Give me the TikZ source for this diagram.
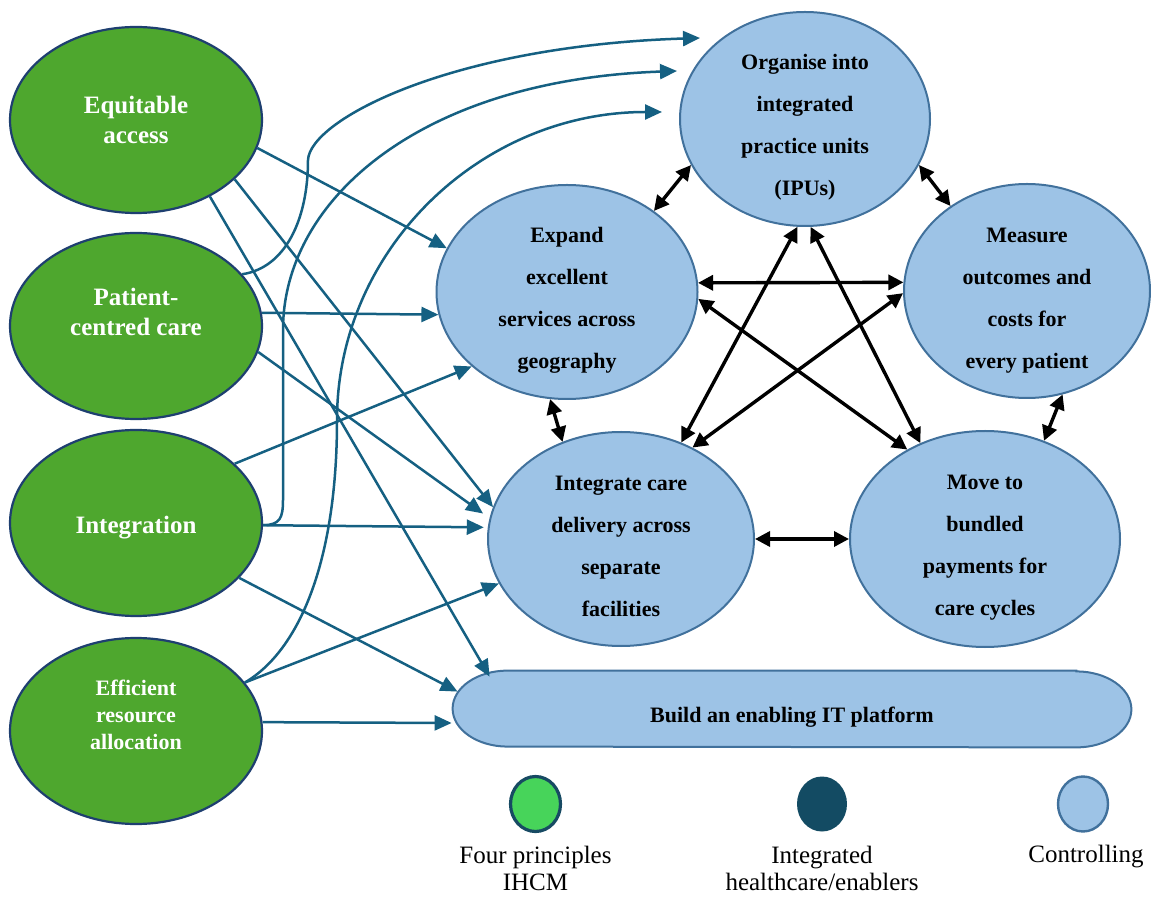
\documentclass[tikz,border=0pt]{standalone}
\usepackage{fontspec}
\setmainfont{Liberation Serif}
\usetikzlibrary{arrows.meta,shapes.geometric}

\definecolor{prgreen}{HTML}{4EA72E}
\definecolor{prborder}{HTML}{1E3F70}
\definecolor{ctfill}{HTML}{9DC3E6}
\definecolor{ctborder}{HTML}{41719C}
\definecolor{flowblue}{HTML}{156082}
\definecolor{keygreen}{HTML}{47D45A}
\definecolor{keyrim}{HTML}{174A63}
\definecolor{keydark}{HTML}{134B63}

% centred multi-line text, shifted vertically by #1 without changing the node size
\newcommand\lbl[2]{\raisebox{#1}[0pt][0pt]{\begin{tabular}{@{}c@{}}#2\end{tabular}}}

\tikzset{
  principle/.style={ellipse, draw=prborder, line width=1.1pt, fill=prgreen,
    minimum width=126pt, minimum height=93pt, inner sep=0pt, text=white,
    font=\bfseries\fontsize{12.5}{15}\selectfont},
  ctrl/.style={ellipse, draw=ctborder, line width=1pt, fill=ctfill,
    inner sep=0pt, font=\bfseries\fontsize{11}{21}\selectfont},
  flow/.style={draw=flowblue, line width=1.25pt, -{Triangle[length=8.5pt,width=7.5pt]}},
  link/.style={draw=black, line width=1.7pt,
    {Triangle[length=7.5pt,width=7.5pt]}-{Triangle[length=7.5pt,width=7.5pt]}},
  keydot/.style={ellipse, minimum width=25pt, minimum height=27.5pt, inner sep=0pt},
  keytext/.style={font=\fontsize{12.5}{13.5}\selectfont, inner sep=0pt}
}

\begin{document}
\begin{tikzpicture}[x=0.5pt,y=-0.5pt]
\useasboundingbox (0,0) rectangle (1151,897);
\fill[white] (0,0) rectangle (1151,897);

% the four principles
\node[principle] (eq) at (136,120) {\lbl{-4.5pt}{Equitable\\access}};
\node[principle] (pc) at (136,326) {\lbl{2.5pt}{Patient-\\centred care}};
\node[principle] (ig) at (136,523) {\lbl{-5.5pt}{Integration}};
\node[principle, font=\bfseries\fontsize{11}{13.5}\selectfont] (ef) at (136,731)
  {\lbl{4pt}{Efficient\\resource\\allocation}};

% value agenda components
\node[ctrl, minimum width=125pt, minimum height=107pt] (org) at (805,119)
  {\lbl{-5.5pt}{Organise into\\integrated\\practice units\\(IPUs)}};
\node[ctrl, minimum width=130.5pt, minimum height=107pt] (exp) at (567,292)
  {\lbl{-5.5pt}{Expand\\excellent\\services across\\geography}};
\node[ctrl, minimum width=123pt, minimum height=107pt] (mea) at (1027,291)
  {\lbl{-6pt}{Measure\\outcomes and\\costs for\\every patient}};
\node[ctrl, minimum width=133pt, minimum height=107pt] (icd) at (621,539)
  {\lbl{-6pt}{Integrate care\\delivery across\\separate\\facilities}};
\node[ctrl, minimum width=135pt, minimum height=108pt] (mov) at (985,539)
  {\lbl{-5.5pt}{Move to\\bundled\\payments for\\care cycles}};

% IT platform: long box with elliptical ends
\node[rectangle, minimum width=339pt, minimum height=38pt, inner sep=0pt] (it) at (792,709) {};
\draw[ctborder, line width=1pt, fill=ctfill]
  ([xshift=-27.5pt]it.north east) -- ([xshift=27.5pt]it.north west)
  arc[start angle=90, end angle=270, x radius=27.5pt, y radius=19pt]
  -- ([xshift=-27.5pt]it.south east)
  arc[start angle=-90, end angle=90, x radius=27.5pt, y radius=19pt] -- cycle;
\node[font=\bfseries\fontsize{11}{21}\selectfont] at (it.center)
  {\lbl{-5.5pt}{Build an enabling IT platform}};

% links among the components
\draw[link] (org.202) -- (exp.43);
\draw[link] (org.-22) -- (mea.132);
\draw[link] (org.-94) -- (icd.58);
\draw[link] (org.-87) -- (mov.124);
\draw[link] (exp.4) -- (mea.176);
\draw[link] (exp.-3) -- (mov.131);
\draw[link] (mea.181) -- (icd.52);
\draw[link] (exp.-99) -- (icd.121);
\draw[link] (mea.-71) -- (mov.59);
\draw[link] (icd.0) -- (mov.180);

% arrow ends in front of the IPU ellipse
\coordinate (tipA) at (700,38);
\coordinate (tipB) at (677,71);
\coordinate (tipC) at (662,112);

% principles feeding the components
\draw[flow] (eq.-13) -- (exp.160);
\draw[flow] (eq.-31) -- (icd.166.5);
\draw[flow] (eq.-46) -- ([xshift=18.5pt,yshift=-3pt]it.north west);
\draw[flow] (pc.6) -- (exp.-170);
\draw[flow, shorten >=4pt] (pc.-12) -- (icd.171);
\draw[flow] (pc.26) .. controls (285,268) and (308,220) .. (308,160)
  .. controls (310,120) and (450,46) .. (tipA);
\draw[flow] (ig.31) -- (exp.-142);
\draw[flow, shorten >=2pt] (ig.-1) -- (icd.175);
\draw[flow] (ig.-1) .. controls (280,525) and (283,518) .. (283,500) -- (283,330)
  .. controls (283,200) and (420,80) .. (tipB);
\draw[flow] (ig.-28) -- ([xshift=2.5pt,yshift=-10.5pt]it.north west);
\draw[flow] (ef.24) -- (icd.-160);
\draw[flow] (ef.24) .. controls (300,650) and (337,560) .. (337,420)
  .. controls (337,250) and (480,112) .. (tipC);
\draw[flow] (ef.4) -- ([xshift=-0.5pt,yshift=-7pt]it.west);

% key
\node[keydot, fill=keygreen, draw=keyrim, line width=1.6pt] (k1) at (535.5,804) {};
\node[keydot, fill=keydark] (k2) at (822,804) {};
\node[keydot, fill=ctfill, draw=ctborder, line width=1.2pt] (k3) at (1083,804) {};
\node[keytext] (k1t) at (535.5,878) {\lbl{0pt}{Four principles\\IHCM}};
\node[keytext] (k2t) at (822,878) {\lbl{0pt}{Integrated\\healthcare/enablers}};
\node[keytext] (k3t) at (1086,857) {Controlling};
\end{tikzpicture}
\end{document}
